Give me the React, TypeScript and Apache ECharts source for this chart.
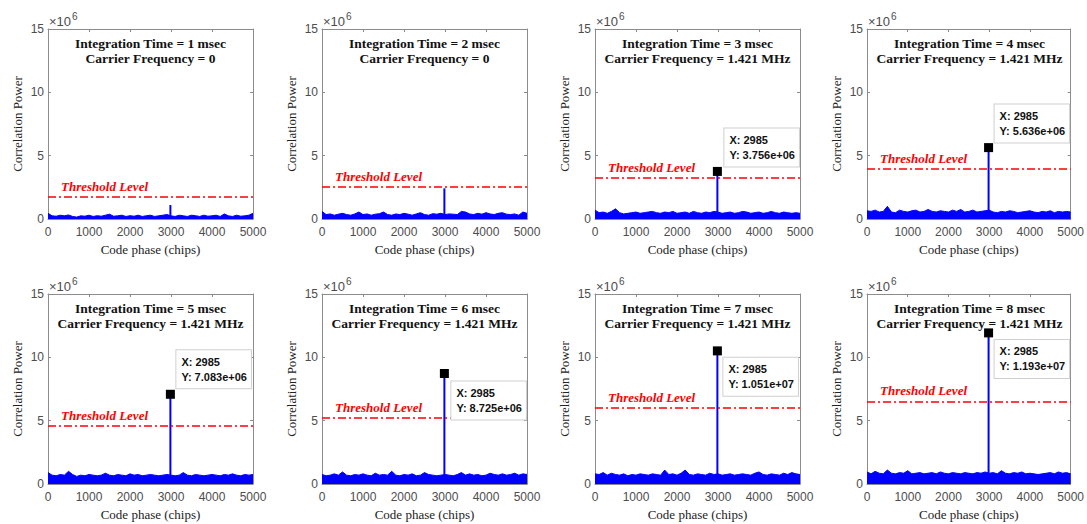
import { useEffect, useRef } from "react";
import * as echarts from "echarts";

// Acquisition results: correlation power vs. code phase for growing integration time
const integrationTimesMs = [1, 2, 3, 4, 5, 6, 7, 8];
const carrierFrequencies = ["0", "0", "1.421 MHz", "1.421 MHz", "1.421 MHz", "1.421 MHz", "1.421 MHz", "1.421 MHz"];
const peakChip = 2985;
const peakPower = [1.1e6, 2.42e6, 3.756e6, 5.636e6, 7.083e6, 8.725e6, 1.051e7, 1.193e7];
const thresholdPower = [1.72e6, 2.55e6, 3.26e6, 3.95e6, 4.58e6, 5.23e6, 6.0e6, 6.53e6];
const showDatatip = [false, false, true, true, true, true, true, true];

// Noise floor envelope (x 10^6), one value every 100 chips from 0 to 5000
const noiseStepChips = 100;
const noise1ms = [0.45, 0.25, 0.22, 0.3, 0.25, 0.32, 0.2, 0.15, 0.25, 0.22, 0.3, 0.2, 0.26, 0.22, 0.3, 0.38, 0.22, 0.25, 0.3, 0.2, 0.26, 0.22, 0.3, 0.2, 0.26, 0.3, 0.2, 0.25, 0.3, 0.35, 0.25, 0.2, 0.3, 0.25, 0.2, 0.3, 0.26, 0.2, 0.3, 0.22, 0.25, 0.3, 0.2, 0.4, 0.25, 0.2, 0.3, 0.22, 0.25, 0.3, 0.45];
const noise2ms = [0.6, 0.35, 0.4, 0.3, 0.38, 0.45, 0.35, 0.3, 0.4, 0.55, 0.35, 0.4, 0.3, 0.38, 0.42, 0.55, 0.35, 0.3, 0.4, 0.35, 0.45, 0.38, 0.3, 0.4, 0.5, 0.35, 0.3, 0.42, 0.38, 0.45, 0.35, 0.4, 0.38, 0.35, 0.6, 0.55, 0.4, 0.35, 0.45, 0.38, 0.5, 0.4, 0.35, 0.45, 0.5, 0.38, 0.35, 0.4, 0.3, 0.55, 0.45];
const noise3ms = [0.7, 0.5, 0.55, 0.45, 0.6, 0.8, 0.5, 0.4, 0.45, 0.5, 0.55, 0.45, 0.5, 0.55, 0.6, 0.5, 0.45, 0.55, 0.5, 0.6, 0.45, 0.5, 0.55, 0.45, 0.6, 0.5, 0.45, 0.55, 0.5, 0.6, 0.55, 0.45, 0.5, 0.55, 0.45, 0.5, 0.6, 0.55, 0.45, 0.5, 0.55, 0.45, 0.5, 0.6, 0.5, 0.45, 0.55, 0.5, 0.45, 0.5, 0.45];
const noise4ms = [0.65, 0.6, 0.7, 0.55, 0.6, 1.0, 0.55, 0.5, 0.7, 0.6, 0.55, 0.65, 0.7, 0.55, 0.6, 0.75, 0.6, 0.55, 0.65, 0.6, 0.55, 0.7, 0.6, 0.75, 0.55, 0.6, 0.7, 0.55, 0.6, 0.65, 0.7, 0.55, 0.5, 0.6, 0.55, 0.65, 0.6, 0.5, 0.55, 0.6, 0.65, 0.55, 0.5, 0.6, 0.55, 0.65, 0.5, 0.6, 0.55, 0.6, 0.55];
const noise5ms = [0.9, 0.7, 0.65, 0.75, 0.7, 1.0, 0.75, 0.6, 0.7, 0.65, 0.75, 0.7, 0.65, 0.7, 0.85, 0.7, 0.65, 0.75, 0.7, 0.65, 0.8, 0.7, 0.75, 0.65, 0.7, 0.75, 0.7, 0.65, 0.7, 0.75, 0.7, 0.65, 0.7, 0.9, 0.7, 0.65, 0.75, 0.7, 0.65, 0.7, 0.75, 0.7, 0.65, 0.75, 0.7, 0.8, 0.7, 0.65, 0.75, 0.7, 0.75];
const noise6ms = [0.75, 0.65, 0.7, 0.8, 0.7, 0.95, 0.7, 0.65, 0.75, 0.7, 0.8, 0.7, 0.65, 0.85, 0.7, 0.75, 0.7, 1.0, 0.7, 0.65, 0.75, 0.7, 0.8, 0.65, 0.7, 0.9, 0.75, 0.7, 0.65, 0.7, 0.75, 0.7, 0.65, 0.75, 0.9, 0.7, 0.8, 0.7, 0.75, 0.65, 0.7, 0.85, 0.75, 0.7, 0.8, 0.7, 0.75, 0.85, 0.7, 0.8, 0.75];
const noise7ms = [0.8, 0.75, 0.9, 0.7, 0.85, 0.75, 0.7, 0.8, 0.65, 0.75, 0.7, 0.8, 0.75, 0.7, 0.8, 0.75, 0.7, 1.1, 0.75, 0.8, 0.7, 0.85, 1.1, 0.75, 0.7, 0.8, 0.75, 0.7, 0.85, 0.75, 0.8, 0.7, 0.75, 0.8, 0.7, 0.75, 0.8, 0.75, 0.7, 0.85, 0.95, 0.75, 0.7, 0.8, 0.75, 0.7, 0.85, 0.75, 0.9, 0.8, 0.75];
const noise8ms = [0.95, 0.8, 1.0, 0.85, 0.8, 1.1, 0.85, 0.8, 0.9, 0.85, 1.05, 0.8, 0.85, 0.9, 0.8, 0.85, 0.9, 0.8, 0.95, 0.85, 0.8, 0.9, 0.85, 0.8, 0.9, 0.85, 0.8, 0.9, 0.85, 0.95, 0.85, 0.9, 0.8, 1.05, 0.85, 0.8, 0.9, 0.85, 0.95, 0.8, 0.85, 0.8, 0.75, 0.8, 0.85, 0.9, 0.8, 0.95, 0.85, 0.9, 0.8];
const noiseFloors = [noise1ms, noise2ms, noise3ms, noise4ms, noise5ms, noise6ms, noise7ms, noise8ms];

const xMin = 0;
const xMax = 5000;
const xInterval = 1000;
const yMin = 0;
const yMax = 15e6;
const yInterval = 5e6;

// Panel layout (pixels)
const panelLefts = [48, 322, 595, 867];
const panelTops = [29, 294];
const panelWidth = 205;
const panelHeight = 190;
// Datatip box offset from the marker centre
const tipOffsets = [
  [0, 0], [0, 0], [7, -43], [6, -43],
  [6, -44], [7, 8], [6, 7], [6, 7],
];

const BLUE = "#0000ff";
const RED = "#ff0000";
const AXIS_GRAY = "#8c8c8c";
const LABEL_GRAY = "#4d4d4d";
const SERIF = "Liberation Serif";
const SANS = "Liberation Sans";

function formatExp(v: number): string {
  const [m, e] = v.toExponential(3).split("e");
  const sign = e[0] === "-" ? "-" : "+";
  const digits = e.replace(/[+-]/, "").padStart(2, "0");
  return `${m}e${sign}${digits}`;
}

function buildOption() {
  const grids: any[] = [];
  const xAxes: any[] = [];
  const yAxes: any[] = [];
  const series: any[] = [];
  const graphics: any[] = [];
  const n = integrationTimesMs.length;

  for (let i = 0; i < n; i++) {
    const left = panelLefts[i % 4];
    const top = panelTops[Math.floor(i / 4)];
    grids.push({ left, top, width: panelWidth, height: panelHeight, containLabel: false });
  }

  const axisCommon = {
    axisLine: { show: true, onZero: false, lineStyle: { color: AXIS_GRAY, width: 1 } },
    axisTick: { show: true, inside: true, length: 3, lineStyle: { color: AXIS_GRAY } },
    splitLine: { show: false },
  };

  // bottom / left axes carry the data; top / right ones close the box
  for (let i = 0; i < n; i++) {
    xAxes.push({
      ...axisCommon,
      type: "value", gridIndex: i, position: "bottom",
      min: xMin, max: xMax, interval: xInterval,
      axisLabel: {
        color: LABEL_GRAY, fontSize: 12, fontFamily: SANS, margin: 7,
        formatter: (v: number) => String(v),
      },
      name: "Code phase (chips)", nameLocation: "middle", nameGap: 24,
      nameTextStyle: { color: "#222", fontSize: 13, fontFamily: SERIF },
    });
    yAxes.push({
      ...axisCommon,
      type: "value", gridIndex: i, position: "left",
      min: yMin, max: yMax, interval: yInterval,
      axisLabel: {
        color: LABEL_GRAY, fontSize: 12, fontFamily: SANS, margin: 4,
        formatter: (v: number) => String(v / 1e6),
      },
      name: "Correlation Power", nameLocation: "middle", nameGap: 24,
      nameTextStyle: { color: "#222", fontSize: 13, fontFamily: SERIF },
    });
  }
  for (let i = 0; i < n; i++) {
    xAxes.push({
      ...axisCommon, type: "value", gridIndex: i, position: "top",
      min: xMin, max: xMax, interval: xInterval, axisLabel: { show: false },
    });
    yAxes.push({
      ...axisCommon, type: "value", gridIndex: i, position: "right",
      min: yMin, max: yMax, interval: yInterval, axisLabel: { show: false },
    });
  }

  for (let i = 0; i < n; i++) {
    const noiseData = noiseFloors[i].map((v, k) => [k * noiseStepChips, v * 1e6]);
    series.push({
      type: "line", xAxisIndex: i, yAxisIndex: i, data: noiseData,
      symbol: "none", silent: true, z: 2,
      lineStyle: { color: BLUE, width: 1 },
      areaStyle: { color: BLUE, opacity: 1 },
    });
    series.push({
      type: "line", xAxisIndex: i, yAxisIndex: i,
      data: [[peakChip, 0], [peakChip, peakPower[i]]],
      symbol: "none", silent: true, z: 3,
      lineStyle: { color: BLUE, width: 2 },
      markLine: {
        silent: true, symbol: "none", z: 4,
        lineStyle: { color: RED, width: 1.5, type: [8, 3, 2, 3] },
        label: {
          show: true, position: "insideStartTop", distance: [13, 4],
          formatter: "Threshold Level", color: RED, fontStyle: "italic",
          fontWeight: "bold", fontSize: 13, fontFamily: SERIF,
        },
        data: [{ yAxis: thresholdPower[i] }],
      },
    });
    if (showDatatip[i]) {
      const [dx, dy] = tipOffsets[i];
      series.push({
        type: "scatter", xAxisIndex: i, yAxisIndex: i,
        data: [[peakChip, peakPower[i]]],
        symbol: "rect", symbolSize: 9, z: 6, silent: true,
        itemStyle: { color: "#000000", opacity: 1 },
        label: {
          show: true, position: [dx + 4.5, dy + 4.5],
          align: "left", verticalAlign: "top",
          formatter: `X: ${peakChip}\nY: ${formatExp(peakPower[i])}`,
          color: "#111", fontWeight: "bold", fontSize: 11, fontFamily: SANS,
          lineHeight: 15, backgroundColor: "#ffffff", borderColor: "#cfcfcf",
          borderWidth: 1, padding: [4, 4, 4, 5],
        },
      });
    }

    // panel headers and exponent markers
    const left = panelLefts[i % 4];
    const top = panelTops[Math.floor(i / 4)];
    graphics.push({
      type: "text", x: left + panelWidth / 2, y: top + 7, z: 10,
      style: {
        text: `Integration Time = ${integrationTimesMs[i]} msec\nCarrier Frequency = ${carrierFrequencies[i]}`,
        fill: "#111", fontFamily: SERIF, fontWeight: "bold", fontSize: 13.5, lineHeight: 15,
        align: "center", verticalAlign: "top",
      },
    });
    graphics.push({
      type: "text", x: left + 1, y: top - 1,
      style: { text: "×10", fill: LABEL_GRAY, fontFamily: SANS, fontSize: 13, align: "left", verticalAlign: "bottom" },
    });
    graphics.push({
      type: "text", x: left + 24, y: top - 8,
      style: { text: "6", fill: LABEL_GRAY, fontFamily: SANS, fontSize: 10, align: "left", verticalAlign: "bottom" },
    });
  }

  return {
    animation: false,
    backgroundColor: "#ffffff",
    grid: grids,
    xAxis: xAxes,
    yAxis: yAxes,
    series,
    graphic: graphics,
  };
}

export default function App() {
  const ref = useRef<HTMLDivElement>(null);
  useEffect(() => {
    if (!ref.current) return;
    const chart = echarts.init(ref.current, undefined, { renderer: "svg" });
    chart.setOption(buildOption() as any);
    return () => chart.dispose();
  }, []);
  return (
    <div
      ref={ref}
      style={{ position: "absolute", left: 0, top: 0, width: 1087, height: 524, background: "#fff" }}
    />
  );
}
